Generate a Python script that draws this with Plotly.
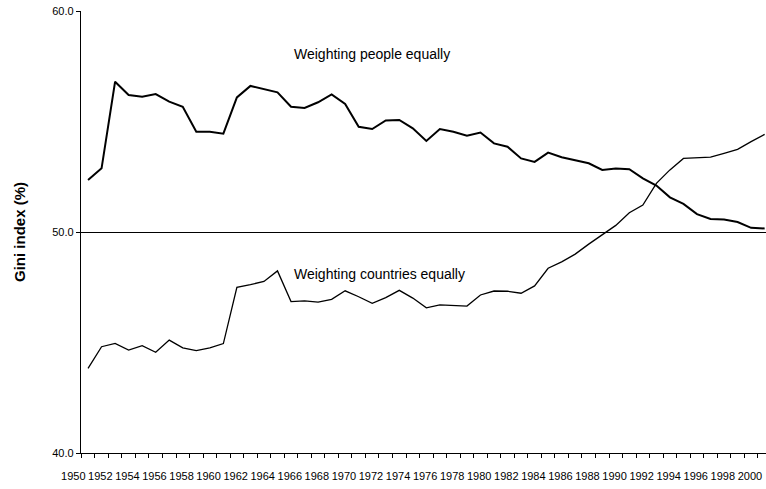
import plotly.graph_objects as go

years = list(range(1950, 2001))

people_equal = [
    52.35, 52.88, 56.80, 56.20, 56.12, 56.24, 55.90, 55.67, 54.54, 54.54,
    54.45, 56.09, 56.61, 56.46, 56.32, 55.67, 55.61, 55.87, 56.23, 55.79,
    54.76, 54.66, 55.05, 55.07, 54.69, 54.12, 54.66, 54.54, 54.36, 54.50,
    54.01, 53.86, 53.33, 53.17, 53.59, 53.38, 53.26, 53.11, 52.81, 52.87,
    52.84, 52.43, 52.10, 51.57, 51.27, 50.81, 50.59, 50.56, 50.45, 50.19,
    50.16,
]

countries_equal = [
    43.83, 44.81, 44.96, 44.66, 44.86, 44.56, 45.11, 44.76, 44.63, 44.76,
    44.95, 47.50, 47.62, 47.76, 48.24, 46.85, 46.88, 46.83, 46.95, 47.34,
    47.07, 46.77, 47.03, 47.36, 47.01, 46.57, 46.70, 46.68, 46.65, 47.15,
    47.33, 47.32, 47.23, 47.56, 48.36, 48.65, 49.00, 49.45, 49.88, 50.30,
    50.87, 51.22, 52.20, 52.81, 53.33, 53.36, 53.39, 53.56, 53.74, 54.09,
    54.42,
]

# category labels: every second year is labelled
x_tick_labels = [str(y) if (y - 1950) % 2 == 0 else "" for y in years]
y_tick_vals = [40, 50, 60]
y_tick_labels = ["40.0", "50.0", "60.0"]

FONT = "Liberation Sans, Arial, sans-serif"

fig = go.Figure()
fig.add_trace(go.Scatter(
    x=years, y=people_equal, mode="lines",
    line=dict(color="black", width=2), name="Weighting people equally",
    showlegend=False,
))
fig.add_trace(go.Scatter(
    x=years, y=countries_equal, mode="lines",
    line=dict(color="black", width=1.3), name="Weighting countries equally",
    showlegend=False,
))

fig.add_annotation(x=1965.1, y=58.05, text="Weighting people equally",
                   showarrow=False, xanchor="left", yanchor="middle",
                   font=dict(family=FONT, size=14, color="black"))
fig.add_annotation(x=1965.1, y=48.1, text="Weighting countries equally",
                   showarrow=False, xanchor="left", yanchor="middle",
                   font=dict(family=FONT, size=14, color="black"))

# ticks sit on the category boundaries (half a year before each year)
boundaries = [y - 0.5 for y in years]

fig.update_layout(
    width=766, height=489,
    margin=dict(l=81, r=0, t=11, b=36),
    paper_bgcolor="white", plot_bgcolor="white",
    font=dict(family=FONT, color="black"),
    xaxis=dict(
        range=[1949.48, 2000.1], automargin=False,
        tickvals=boundaries, ticktext=x_tick_labels,
        ticks="outside", ticklen=4, tickcolor="black",
        ticklabelshift=-8, ticklabelstandoff=9,
        tickfont=dict(size=11, color="black"),
        showline=True, linecolor="black", linewidth=1,
        showgrid=False, zeroline=False,
    ),
    yaxis=dict(
        range=[40, 60], automargin=False,
        tickvals=y_tick_vals, ticktext=y_tick_labels,
        ticks="outside", ticklen=4, tickcolor="black",
        tickfont=dict(size=11, color="black"),
        showline=True, linecolor="black", linewidth=1.3,
        showgrid=True, gridcolor="black", gridwidth=1,
        zeroline=False,
        title=dict(text="<b>Gini index (%)</b>",
                   font=dict(size=15, color="black"), standoff=22),
    ),
)

fig.write_html(
    "out.html",
    config={"displayModeBar": False},
    post_script="document.body.style.margin='0';document.body.style.overflow='hidden';",
)
